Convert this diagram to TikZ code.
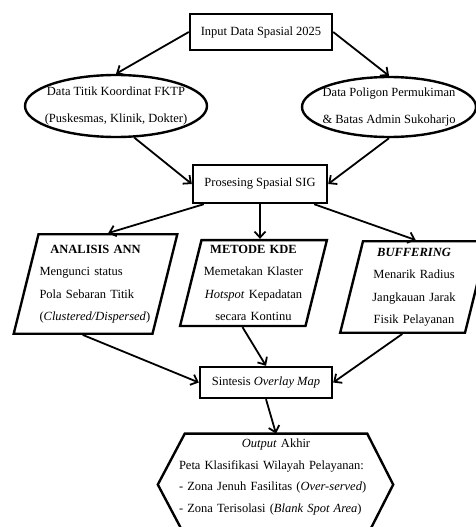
\documentclass[tikz,border=0pt]{standalone}
\usepackage{fontspec}
\setmainfont{Liberation Serif}
\usetikzlibrary{shapes.geometric,arrows.meta}
\begin{document}
\begin{tikzpicture}[x=1pt,y=-1pt,
	font=\fontsize{12.5}{15}\selectfont,
	>={Straight Barb[length=6pt,width=11pt]},
	kotak/.style={draw,line width=2.4pt,inner sep=0pt},
	elips/.style={draw,ellipse,line width=2.4pt,inner sep=0pt},
	elipsteks/.style={align=center,font=\fontsize{12.5}{27}\selectfont},
	jajar/.style={draw,trapezium,trapezium left angle=76,trapezium right angle=104,line width=2.4pt,inner xsep=1pt,font=\fontsize{12.5}{22.5}\selectfont},
	panah/.style={->,line width=1.8pt}]
	\useasboundingbox (0,0) rectangle (475,527);
	\node[kotak,minimum width=142pt,minimum height=36pt] (input) at (261,32) {Input Data Spasial 2025};
	\node[elips,minimum width=182pt,minimum height=62pt,label={[elipsteks]center:{Data Titik Koordinat FKTP\\(Puskesmas, Klinik, Dokter)}}] (titik) at (116,106) {};
	\node[elips,minimum width=174pt,minimum height=60pt,label={[elipsteks]center:{Data Poligon Permukiman\\\& Batas Admin Sukoharjo}}] (poligon) at (389,107) {};
	\node[kotak,minimum width=134pt,minimum height=38pt] (proses) at (260,184) {Prosesing Spasial SIG};
	\node[jajar,align=left,text width=112pt,inner ysep=10.5pt] (ann) at (95.5,284) {\makebox[\linewidth]{\textbf{ANALISIS ANN}}\\Mengunci status\\Pola Sebaran Titik\\(\textit{Clustered/Dispersed})};
	\node[jajar,align=center,text width=102pt,inner ysep=5pt] (kde) at (253.5,283) {\textbf{METODE KDE}\\Memetakan Klaster\\\textit{Hotspot} Kepadatan\\secara Kontinu};
	\node[jajar,align=center,text width=100pt,inner ysep=6.5pt] (buff) at (414,287) {\textbf{\textit{BUFFERING}}\\Menarik Radius\\Jangkauan Jarak\\Fisik Pelayanan};
	\node[kotak,minimum width=132pt,minimum height=31pt] (sintesis) at (266,382.5) {Sintesis \textit{Overlay Map}};
	\node[align=left,text width=194pt,inner xsep=0pt,inner ysep=5pt,font=\fontsize{12.5}{21.7}\selectfont] (akhir) at (276,477) {\makebox[\linewidth]{\textit{Output} Akhir}\\Peta Klasifikasi Wilayah Pelayanan:\\- Zona Jenuh Fasilitas (\textit{Over-served})\\- Zona Terisolasi (\textit{Blank Spot Area})};
	\draw[line width=2.4pt] ([xshift=6pt]akhir.north west) -- ([xshift=-6pt]akhir.north east) -- ([xshift=20pt,yshift=-51pt]akhir.north east) -- ([xshift=-6pt,yshift=-102pt]akhir.north east) -- ([xshift=6pt,yshift=-102pt]akhir.north west) -- ([xshift=-21pt,yshift=-51pt]akhir.north west) -- cycle;
	\draw[panah] (input.west) -- (titik.north);
	\draw[panah] (input.east) -- (poligon.north);
	\draw[panah] (titik.-60) -- (proses.west);
	\draw[panah] (poligon.south) -- (proses.east);
	\draw[panah] ([xshift=12pt]proses.south west) -- (ann.top side);
	\draw[panah] (proses.south) -- (proses.south |- kde.north);
	\draw[panah] ([xshift=-14pt]proses.south east) -- ([xshift=-10pt]buff.top side);
	\draw[panah] (ann.bottom side) -- (sintesis.west);
	\draw[panah] (kde.bottom side) -- (sintesis.north);
	\draw[panah] (buff.bottom side) -- (sintesis.east);
	\draw[panah] (sintesis.south) -- (akhir.north);
\end{tikzpicture}
\end{document}
